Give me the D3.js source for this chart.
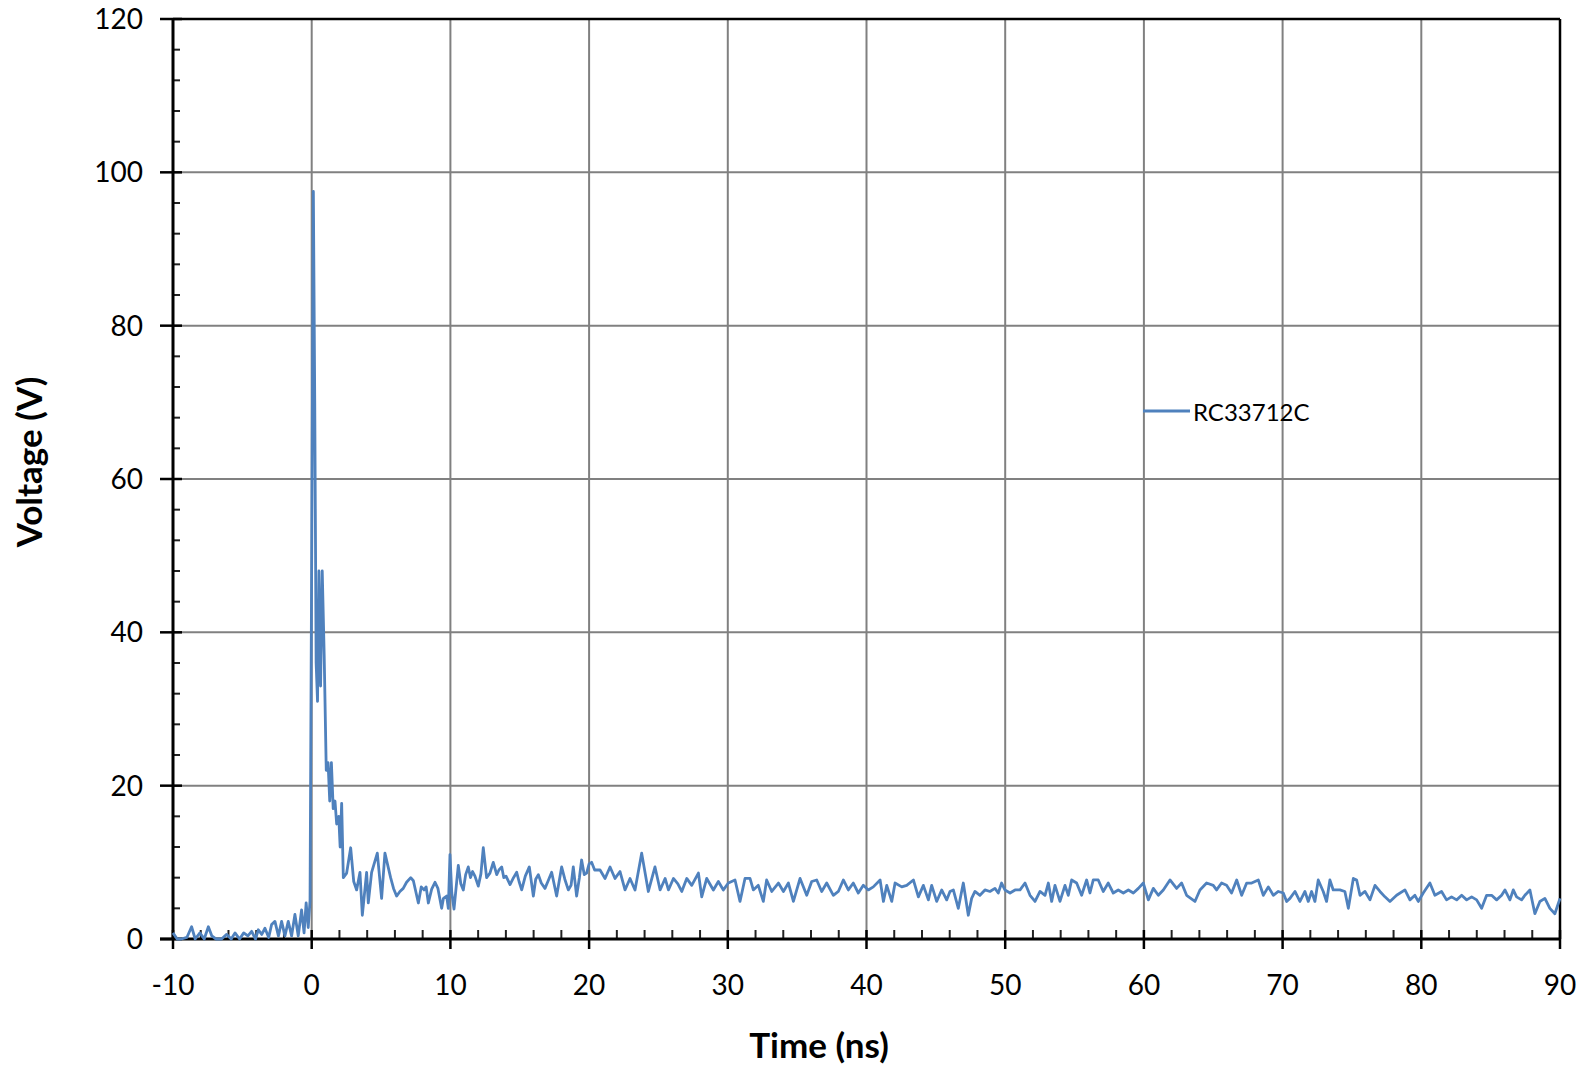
<!DOCTYPE html>
<html><head><meta charset="utf-8">
<script src="https://d3js.org/d3.v7.min.js"></script>
<style>
html,body{margin:0;padding:0;background:#fff;}
svg{display:block;font-family:Lato,"Open Sans",sans-serif;}
</style>
</head><body>
<svg id="chart" width="1589" height="1069"></svg>
<script>
// ---- data ----
const seriesName = "RC33712C";
const xTitle = "Time (ns)";
const yTitle = "Voltage (V)";
const xTicks = [-10, 0, 10, 20, 30, 40, 50, 60, 70, 80, 90];
const yTicks = [0, 20, 40, 60, 80, 100, 120];
const xMinorStep = 2;
const yMinorStep = 4;

const timeNs = [
 -10.0,-9.7,-9.4,-9.0,-8.66,-8.4,-8.06,-7.75,-7.45,-7.2,-6.9,-6.5,-6.13,-5.8,-5.53,-5.2,-4.9,-4.6,-4.33,-4.05,
 -3.85,-3.6,-3.37,-3.1,-2.89,-2.65,-2.4,-2.17,-1.93,-1.69,-1.45,-1.21,-0.97,-0.73,-0.55,-0.4,-0.25,-0.12,
 0.0,0.12,0.22,0.32,0.42,0.52,0.64,0.76,0.9,1.05,1.18,1.3,1.42,1.55,1.68,1.8,1.95,2.05,2.16,2.28,
 2.52,2.81,3.03,3.24,3.48,3.65,3.96,4.08,4.32,4.73,5.04,5.28,5.69,5.9,6.12,6.36,6.6,6.84,7.14,7.33,7.69,7.9,
 8.1,8.25,8.41,8.65,8.89,9.1,9.37,9.5,9.73,9.85,9.97,10.1,10.26,10.57,10.75,10.93,11.1,11.29,11.45,11.6,
 11.77,12.01,12.2,12.37,12.61,12.85,13.09,13.34,13.5,13.7,13.85,14.01,14.3,14.55,14.78,14.95,15.14,15.4,15.69,15.98,
 16.15,16.34,16.55,16.82,17.05,17.3,17.66,18.02,18.25,18.5,18.7,18.86,19.1,19.3,19.46,19.65,19.82,20.0,20.18,20.4,
 20.79,21.15,21.51,21.87,22.23,22.59,22.95,23.31,23.79,24.27,24.75,25.12,25.48,25.72,26.08,26.4,26.68,27.04,27.4,27.88,
 28.12,28.48,28.96,29.32,29.68,30.04,30.52,30.88,31.24,31.6,31.84,32.2,32.56,32.8,33.17,33.65,34.01,34.37,34.73,35.21,
 35.69,36.05,36.41,36.77,37.13,37.61,37.97,38.33,38.69,39.05,39.41,39.77,40.13,40.49,40.98,41.22,41.46,41.82,42.06,42.54,
 42.9,43.38,43.74,44.1,44.46,44.7,45.06,45.42,45.78,
 46.02,46.26,46.62,46.98,47.34,47.58,47.82,48.18,48.54,48.9,49.26,49.5,49.74,49.98,50.35,50.71,51.07,51.43,51.79,52.15,
 52.51,52.87,53.11,53.35,53.59,53.95,54.31,54.55,54.79,55.15,55.51,55.87,56.11,56.35,56.71,57.07,57.43,57.79,58.15,58.52,
 58.88,59.24,59.6,59.96,60.32,60.68,61.04,61.4,61.88,62.36,62.72,63.08,63.68,64.04,64.52,65.0,65.24,65.6,65.96,66.32,
 66.69,67.05,67.41,67.77,68.25,68.61,68.97,69.33,69.69,70.05,70.29,
 70.53,70.89,71.25,71.61,71.85,72.09,72.33,72.57,72.93,73.17,73.41,73.65,74.13,74.49,74.74,75.1,75.34,75.58,75.94,76.3,
 76.66,77.02,77.38,77.74,78.22,78.82,79.18,79.54,79.78,80.14,80.62,80.98,81.46,81.82,82.18,82.55,82.91,83.27,83.63,83.99,
 84.35,84.71,85.07,85.43,85.79,86.03,86.39,86.63,86.87,87.23,87.47,87.83,88.19,88.55,88.91,89.27,89.63,90.0
];
const voltage = [
 0.8,0,0,0.2,1.6,0,0.8,0,1.6,0.4,0,0,0.6,0,0.8,0,0.8,0.4,1.0,0,
 1.2,0.6,1.4,0.2,1.9,2.3,0.4,2.3,0.4,2.3,0.4,3.2,0.4,3.8,0.8,4.7,1.5,5.0,
 50,97.5,70,36,31,48,33,48,37,22,23,18,23,17,18,15,16,12,17.7,8,
 8.6,11.9,7.5,6.4,8.7,3.1,8.7,4.7,8.7,11.2,5.3,11.2,8.0,6.6,5.6,6.2,6.6,7.4,8.0,7.6,4.7,6.8,
 6.4,6.8,4.7,6.5,7.4,6.6,4.0,5.3,5.6,4.0,11.0,6.0,3.9,9.6,7.2,6.4,8.4,9.4,8.0,8.8,
 8.2,6.9,8.5,11.9,8.0,8.6,10.0,8.4,9.0,9.4,8.0,8.2,7.1,8.0,8.7,7.5,6.4,8.2,9.4,5.6,
 7.8,8.4,7.3,6.6,7.6,8.7,5.6,9.4,7.8,6.4,7.0,9.4,5.6,8.0,10.3,8.4,8.6,9.8,10.0,9.0,
 9.0,7.9,9.4,7.9,8.8,6.4,7.9,6.4,11.2,6.2,9.4,6.4,7.9,6.4,7.9,7.2,6.2,7.9,7.0,8.6,
 5.5,7.9,6.4,7.5,6.4,7.3,7.7,4.9,7.9,7.9,6.4,7.0,4.9,7.7,6.2,7.3,6.2,7.3,4.9,7.9,
 5.7,7.5,7.7,6.2,7.3,5.7,6.2,7.7,6.4,7.3,6.0,7.0,6.4,6.8,7.7,4.9,7.0,4.9,7.3,6.8,
 7.0,7.7,5.5,7.0,5.1,7.0,4.9,6.4,5.1,
 6.2,6.4,4.0,7.3,3.1,5.3,6.2,5.7,6.4,6.2,6.6,6.0,7.3,6.4,6.0,6.4,6.4,7.3,5.7,4.9,
 6.2,5.7,7.3,4.9,7.0,4.9,7.0,5.7,7.7,7.3,5.7,7.7,6.0,7.7,7.7,6.2,7.3,6.0,6.4,6.0,
 6.4,6.0,6.6,7.3,5.1,6.6,5.7,6.4,7.7,6.6,7.3,5.7,4.9,6.4,7.3,7.0,6.4,7.3,7.0,6.0,
 7.7,5.7,7.3,7.3,7.7,5.7,6.8,5.7,6.2,6.0,4.9,
 5.3,6.2,4.9,6.2,4.9,6.2,4.9,7.7,6.2,4.9,7.7,6.4,6.4,6.2,4.0,7.9,7.7,5.7,6.2,5.1,
 7.0,6.2,5.5,4.9,5.7,6.4,5.1,5.7,4.9,6.0,7.3,5.7,6.2,5.1,5.5,5.1,5.7,5.1,5.5,5.1,
 4.0,5.7,5.7,5.1,5.7,6.4,5.1,6.4,5.5,5.1,5.7,6.4,3.3,4.9,5.3,4.0,3.3,5.3
];

// ---- layout ----
const plot = {left: 173, right: 1560, top: 19, bottom: 939};
const x = d3.scaleLinear().domain([-10, 90]).range([plot.left, plot.right]);
const y = d3.scaleLinear().domain([0, 120]).range([plot.bottom, plot.top]);
const svg = d3.select('#chart');
const axisCol = '#000', gridCol = '#808080', lineCol = '#4f81bd';

// gridlines
svg.append('g').selectAll('line').data(xTicks.filter(d => d > -10 && d < 90)).join('line')
  .attr('x1', d => x(d)).attr('x2', d => x(d)).attr('y1', plot.top).attr('y2', plot.bottom)
  .attr('stroke', gridCol).attr('stroke-width', 2);
svg.append('g').selectAll('line').data(yTicks.filter(d => d > 0 && d < 120)).join('line')
  .attr('y1', d => y(d)).attr('y2', d => y(d)).attr('x1', plot.left).attr('x2', plot.right)
  .attr('stroke', gridCol).attr('stroke-width', 2);

// minor ticks
const xMinor = d3.range(-10, 90.001, xMinorStep).filter(d => !xTicks.includes(d));
const yMinor = d3.range(0, 120.001, yMinorStep).filter(d => !yTicks.includes(d));
svg.append('g').selectAll('line').data(xMinor).join('line')
  .attr('x1', d => x(d)).attr('x2', d => x(d)).attr('y1', plot.bottom - 9).attr('y2', plot.bottom)
  .attr('stroke', '#222').attr('stroke-width', 2);
svg.append('g').selectAll('line').data(yMinor).join('line')
  .attr('y1', d => y(d)).attr('y2', d => y(d)).attr('x1', plot.left).attr('x2', plot.left + 7)
  .attr('stroke', '#222').attr('stroke-width', 2);

// major ticks (crossing)
svg.append('g').selectAll('line').data(xTicks).join('line')
  .attr('x1', d => x(d)).attr('x2', d => x(d)).attr('y1', plot.bottom - 9).attr('y2', plot.bottom + 10)
  .attr('stroke', axisCol).attr('stroke-width', 2.5);
svg.append('g').selectAll('line').data(yTicks).join('line')
  .attr('y1', d => y(d)).attr('y2', d => y(d)).attr('x1', plot.left - 13).attr('x2', plot.left + 9)
  .attr('stroke', axisCol).attr('stroke-width', 2.5);

// frame
svg.append('line').attr('x1', plot.left).attr('x2', plot.right).attr('y1', plot.top).attr('y2', plot.top)
  .attr('stroke', axisCol).attr('stroke-width', 2.5);
svg.append('line').attr('x1', plot.right).attr('x2', plot.right).attr('y1', plot.top).attr('y2', plot.bottom)
  .attr('stroke', axisCol).attr('stroke-width', 2.5);
svg.append('line').attr('x1', plot.left).attr('x2', plot.left).attr('y1', plot.top).attr('y2', plot.bottom)
  .attr('stroke', axisCol).attr('stroke-width', 3);
svg.append('line').attr('x1', plot.left - 13).attr('x2', plot.right).attr('y1', plot.bottom).attr('y2', plot.bottom)
  .attr('stroke', axisCol).attr('stroke-width', 3);

// tick labels
svg.append('g').selectAll('text').data(xTicks).join('text')
  .attr('x', d => x(d)).attr('y', 995).attr('text-anchor', 'middle')
  .attr('font-size', 28).attr('fill', '#000').text(d => String(d));
svg.append('g').selectAll('text').data(yTicks).join('text')
  .attr('x', plot.left - 30).attr('y', d => y(d) + 10).attr('text-anchor', 'end')
  .attr('font-size', 28).attr('fill', '#000').text(d => String(d));

// series
const line = d3.line().x(d => x(d[0])).y(d => y(d[1]));
svg.append('path').datum(d3.zip(timeNs, voltage)).attr('d', line)
  .attr('fill', 'none').attr('stroke', lineCol).attr('stroke-width', 2.8)
  .attr('stroke-linejoin', 'round');

// axis titles
svg.append('text').attr('x', 819).attr('y', 1058).attr('text-anchor', 'middle')
  .attr('font-size', 35).attr('font-weight', 'bold').attr('fill', '#000').text(xTitle);
svg.append('text').attr('transform', 'translate(42,462) rotate(-90)').attr('text-anchor', 'middle')
  .attr('font-size', 35).attr('font-weight', 'bold').attr('fill', '#000').text(yTitle);

// legend
svg.append('line').attr('x1', 1143).attr('x2', 1190).attr('y1', 411).attr('y2', 411)
  .attr('stroke', lineCol).attr('stroke-width', 2.8);
svg.append('text').attr('x', 1193).attr('y', 421).attr('font-size', 24).attr('fill', '#000').text(seriesName);
</script>
</body></html>
